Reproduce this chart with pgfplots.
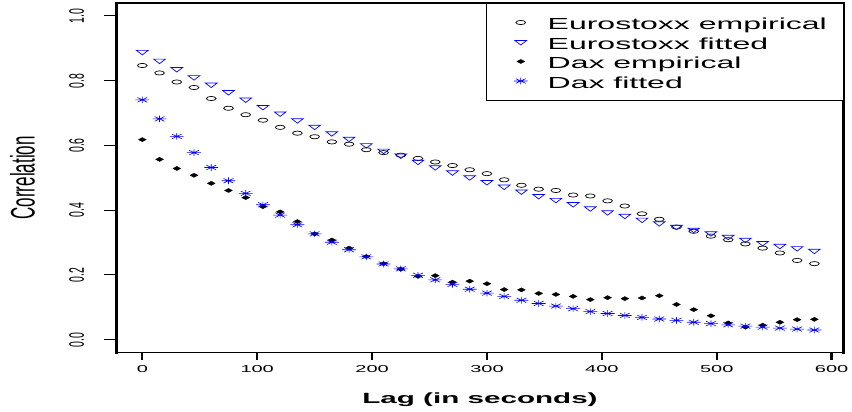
\documentclass[border=0pt]{standalone}
\usepackage{fontspec}
\setmainfont{Liberation Sans}
\newfontfamily\hfont[FakeStretch=2]{Liberation Sans}
\newfontfamily\vfont[FakeStretch=0.5]{Liberation Sans}
\usepackage{pgfplots}
\usepackage{pgfplotstable}
\pgfplotsset{compat=1.18}
\usetikzlibrary{plotmarks}
\pgfdeclareplotmark{rast}{%
 \pgfpathmoveto{\pgfqpoint{-\pgfplotmarksize}{0pt}}\pgfpathlineto{\pgfqpoint{\pgfplotmarksize}{0pt}}%
 \pgfpathmoveto{\pgfqpoint{0pt}{-\pgfplotmarksize}}\pgfpathlineto{\pgfqpoint{0pt}{\pgfplotmarksize}}%
 \pgfpathmoveto{\pgfqpoint{-.7071\pgfplotmarksize}{-.7071\pgfplotmarksize}}\pgfpathlineto{\pgfqpoint{.7071\pgfplotmarksize}{.7071\pgfplotmarksize}}%
 \pgfpathmoveto{\pgfqpoint{-.7071\pgfplotmarksize}{.7071\pgfplotmarksize}}\pgfpathlineto{\pgfqpoint{.7071\pgfplotmarksize}{-.7071\pgfplotmarksize}}%
 \pgfusepathqstroke}
\pgfplotstableread{
t ee ef de df
0 0.847 0.889 0.618 0.741
15 0.824 0.862 0.557 0.682
30 0.796 0.836 0.529 0.628
45 0.779 0.811 0.508 0.578
60 0.745 0.788 0.483 0.532
75 0.715 0.765 0.461 0.491
90 0.695 0.742 0.439 0.452
105 0.678 0.719 0.411 0.417
120 0.656 0.699 0.395 0.385
135 0.638 0.678 0.365 0.355
150 0.627 0.658 0.327 0.327
165 0.611 0.638 0.308 0.301
180 0.604 0.621 0.283 0.278
195 0.587 0.601 0.257 0.256
210 0.578 0.584 0.235 0.234
225 0.570 0.569 0.218 0.219
240 0.560 0.550 0.196 0.199
255 0.549 0.533 0.198 0.185
270 0.538 0.517 0.178 0.171
285 0.525 0.502 0.181 0.156
300 0.513 0.487 0.173 0.144
315 0.494 0.473 0.155 0.134
330 0.477 0.458 0.154 0.122
345 0.465 0.444 0.143 0.112
360 0.461 0.432 0.140 0.104
375 0.447 0.419 0.134 0.096
390 0.444 0.406 0.124 0.087
405 0.429 0.394 0.130 0.081
420 0.413 0.383 0.127 0.075
435 0.389 0.371 0.129 0.069
450 0.372 0.360 0.136 0.064
465 0.348 0.349 0.109 0.060
480 0.335 0.340 0.093 0.054
495 0.320 0.329 0.074 0.050
510 0.309 0.318 0.052 0.046
525 0.296 0.309 0.039 0.042
540 0.283 0.299 0.045 0.039
555 0.268 0.290 0.054 0.036
570 0.245 0.283 0.062 0.033
585 0.235 0.275 0.063 0.030
}\data
\begin{document}
\begin{tikzpicture}
\useasboundingbox (-116.7pt,-59.3pt) rectangle (735.3pt,352.7pt);
\begin{axis}[
 scale only axis, width=726.6pt, height=349.7pt,
 xmin=-22.3, xmax=610.2, ymin=-0.04, ymax=1.04,
 separate axis lines,
 x axis line style={line width=1.3pt, line cap=rect},
 y axis line style={line width=2.6pt, line cap=rect},
 xtick={0,100,...,600}, xticklabels={0,100,200,300,400,500,600},
 ytick={0,0.2,0.4,0.6,0.8,1.0}, yticklabels={0.0,0.2,0.4,0.6,0.8,1.0},
 tick align=outside, tick pos=left,
 major tick length=7pt,
 xtick style={line width=2.2pt, black},
 ytick style={line width=1pt, black, /pgfplots/major tick length=12.5pt},
 xticklabel style={yshift=-2.5pt, font=\hfont\fontsize{10}{12}\selectfont},
 yticklabel style={xshift=-22pt, font=\vfont\fontsize{21}{24}\selectfont, rotate=90, anchor=south},
 xlabel={Lag (in seconds)},
 every axis x label/.style={at={(axis description cs:0.5,-0.135)}, anchor=center, font=\hfont\fontsize{14.8}{18}\selectfont\bfseries},
 ylabel={Correlation},
 every axis y label/.style={at={(axis description cs:-0.1296,0.5)}, rotate=90, anchor=center, font=\vfont\fontsize{34}{38}\selectfont},
 legend style={at={(1,1)}, anchor=north east, draw=black, line width=0.8pt, inner xsep=16pt, inner ysep=10.85pt,
   font=\hfont\fontsize{16}{19}\selectfont, row sep=3pt,
   nodes={inner sep=0pt, text height=15.45pt, text depth=1.05pt},
   /tikz/every odd column/.append style={column sep=20pt}},
 legend cell align=left,
 legend image code/.code={\path (-4pt,0pt); \draw[mark repeat=2,mark phase=2,#1] plot coordinates {(0pt,0pt) (14pt,0pt) (28pt,0pt)};},
]
\addplot[only marks, mark=o, mark size=2.1pt, black, mark options={xscale=2.3, line width=0.7pt}] table[x=t,y=ee]{\data};
\addlegendentry{Eurostoxx empirical}
\addplot[only marks, mark=triangle, mark size=3pt, blue, mark options={rotate=180, xscale=2.25, line width=0.7pt}] table[x=t,y=ef]{\data};
\addlegendentry{Eurostoxx fitted}
\addplot[only marks, mark=diamond*, mark size=2.1pt, black, mark options={xscale=2.5, line width=0.3pt}] table[x=t,y=de]{\data};
\addlegendentry{Dax empirical}
\addplot[only marks, mark=rast, mark size=3.3pt, blue, mark options={xscale=2.1, line width=0.6pt}] table[x=t,y=df]{\data};
\addlegendentry{Dax fitted}
\end{axis}
\end{tikzpicture}
\end{document}
